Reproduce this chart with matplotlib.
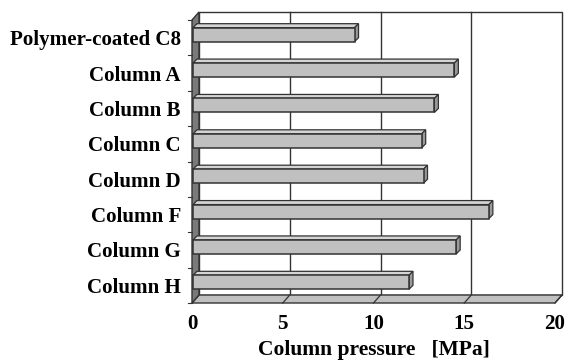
import matplotlib
matplotlib.use("Agg")
import matplotlib.pyplot as plt
from matplotlib.patches import Polygon, Rectangle

categories = ["Polymer-coated C8", "Column A", "Column B", "Column C",
              "Column D", "Column F", "Column G", "Column H"]
pressure = [8.9, 14.4, 13.3, 12.6, 12.7, 16.3, 14.5, 11.9]
xticks = [0, 5, 10, 15, 20]
xlabel = "Column pressure   [MPa]"

W, H = 566, 363
fig = plt.figure(figsize=(W / 100, H / 100), dpi=100)
fig.patch.set_facecolor("white")

# front plane in pixels (from top-left)
L, R, T, B = 192, 555, 20, 303
ax = fig.add_axes([L / W, (H - B) / H, (R - L) / W, (B - T) / H])
n = len(categories)
ax.set_xlim(0, 20)
ax.set_ylim(n - 0.5, -0.5)
for s in ax.spines.values():
    s.set_visible(False)
ax.patch.set_visible(False)

ppx = (R - L) / 20.0
ppy = (B - T) / float(n)


def off(dxp, dyp_up):
    return dxp / ppx, -dyp_up / ppy


edge = "#333333"
DX, DY = off(7, 8)
y0, y1 = -0.5, n - 0.5


def poly(pts, fc, z, lw=1.0):
    ax.add_patch(Polygon(pts, closed=True, facecolor=fc, edgecolor=edge, lw=lw,
                         zorder=z, clip_on=False))


def line(xs, ys, z, lw=1.0):
    ax.plot(xs, ys, color=edge, lw=lw, zorder=z, clip_on=False)


# back wall
poly([(DX, y0 + DY), (20 + DX, y0 + DY), (20 + DX, y1 + DY), (DX, y1 + DY)], "white", 1)
for g in xticks[1:-1]:
    line([g + DX, g + DX], [y0 + DY, y1 + DY], 1.5)

# floor
poly([(0, y1), (20, y1), (20 + DX, y1 + DY), (DX, y1 + DY)], "#c0c0c0", 2)
for g in xticks[1:]:
    line([g + DX, g], [y1 + DY, y1], 2.2, lw=0.9)

# left wall
poly([(0, y0), (DX, y0 + DY), (DX, y1 + DY), (0, y1)], "#7a7a7a", 2)
tlx, _ = off(4, 0)
for k in range(n + 1):
    yb = k - 0.5
    line([-tlx, 0], [yb, yb], 2, lw=0.8)

# bars
bh = 14.0 / ppy
bx, by = off(1, 3)
ddx, ddy = off(4, 4)
for i, v in enumerate(pressure):
    yc = i + by
    yt, yb_ = yc - bh / 2, yc + bh / 2
    xl, xr = bx, v + bx
    poly([(xl, yt), (xr, yt), (xr + ddx, yt + ddy), (xl + ddx, yt + ddy)], "#d4d4d4", 3, 0.9)
    poly([(xr, yt), (xr + ddx, yt + ddy), (xr + ddx, yb_ + ddy), (xr, yb_)], "#9a9a9a", 3, 0.9)
    ax.add_patch(Rectangle((xl, yt), v, bh, facecolor="#c0c0c0", edgecolor=edge,
                           lw=1.1, zorder=4, clip_on=False))

font = dict(family="Liberation Serif", weight="bold")
ax.set_yticks(range(n))
ax.set_yticklabels(categories, fontsize=15.1, **font)
ax.set_xticks(xticks)
ax.set_xticklabels([str(t) for t in xticks], fontsize=15.1, **font)
ax.tick_params(axis="y", length=0, pad=8)
ax.tick_params(axis="x", length=0, pad=8)
ax.set_xlabel(xlabel, fontsize=15.5, labelpad=4, **font)

fig.savefig("out.png", dpi=100, facecolor="white")
